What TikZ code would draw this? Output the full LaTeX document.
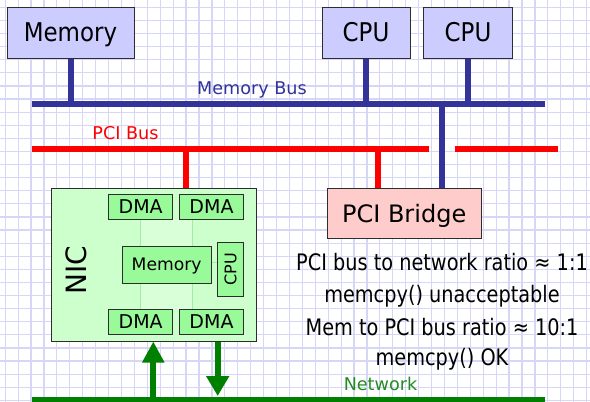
\documentclass[tikz,border=0pt]{standalone}
\usepackage{fontspec}
\setmainfont{DejaVu Sans}
\newfontfamily\notefont[FakeStretch=0.85]{DejaVu Sans}
\newfontfamily\headfont[FakeStretch=0.89]{DejaVu Sans}
\usetikzlibrary{arrows.meta}

\definecolor{gridc}{RGB}{214,214,246}
\definecolor{boxblue}{RGB}{204,204,255}
\definecolor{busblue}{RGB}{51,51,153}
\definecolor{pcired}{RGB}{255,0,0}
\definecolor{netgreen}{RGB}{0,128,0}
\definecolor{nettext}{RGB}{34,140,34}
\definecolor{nicfill}{RGB}{204,255,204}
\definecolor{bandfill}{RGB}{216,255,216}
\definecolor{unitfill}{RGB}{153,250,153}
\definecolor{bridgefill}{RGB}{255,204,204}
\definecolor{edgec}{RGB}{45,45,45}
\definecolor{faintc}{RGB}{165,235,165}

\tikzset{
  gridline/.style={draw=gridc, line width=1.2pt},
  bus/.style={line width=6pt},
  box/.style={draw=edgec, line width=1pt, inner sep=0pt, text depth=0pt},
  topbox/.style={box, fill=boxblue, minimum height=51pt,
    font=\headfont\fontsize{25.8}{30}\selectfont, text height=18.8pt},
  unit/.style={box, fill=unitfill, line width=0.8pt},
  dmabox/.style={unit, minimum width=64pt, minimum height=25pt,
    font=\fontsize{19}{22}\selectfont, text height=13.9pt},
  buslabel/.style={anchor=base, inner sep=0pt, font=\fontsize{17.6}{20}\selectfont},
  note/.style={anchor=base, inner sep=0pt, font=\notefont\fontsize{22.7}{26}\selectfont},
  flow/.style={draw=netgreen, line width=6pt},
  faintline/.style={draw=faintc, line width=1pt}
}

\begin{document}
\begin{tikzpicture}[x=1pt,y=-1pt]
\useasboundingbox (0,0) rectangle (590,402);
\fill[white] (0,0) rectangle (590,402);

% squared paper
\foreach \i in {0,...,45} \draw[gridline] ({5.2+12.92*\i},0) -- ++(0,402);
\foreach \j in {0,...,30} \draw[gridline] (0,{7.3+13.1*\j}) -- ++(590,0);

% host side
\node[topbox, minimum width=127pt] (mem)  at (70.5,32.5) {Memory};
\node[topbox, minimum width=88pt]  (cpu1) at (366,32.5)  {CPU};
\node[topbox, minimum width=89pt]  (cpu2) at (468,32.5)  {CPU};

\node[box, fill=bridgefill, minimum width=154pt, minimum height=50pt,
      font=\fontsize{24}{28}\selectfont, text height=17.5pt] (bridge) at (404.2,213.3) {PCI Bridge};

% network interface card
\node[box, fill=nicfill, minimum width=204.3pt, minimum height=152.7pt] (nic) at (153.85,264.65) {};
\fill[bandfill] (140.7,219) rectangle (192.3,309.3);
\draw[faintline] (140.7,219) -- (140.7,309.3);
\draw[faintline] (192.3,219) -- (192.3,309.3);
\draw[faintline] (211,262) -- (217.3,262);

\node[rotate=90, inner sep=0pt, font=\fontsize{28}{31}\selectfont,
      text height=20.4pt, text depth=0pt] (niclabel) at (76.3,270) {NIC};

\node[dmabox] (dma1) at (140.65,206.5) {DMA};
\node[dmabox] (dma2) at (211.5,206.5)  {DMA};
\node[dmabox] (dma3) at (140.65,321.8) {DMA};
\node[dmabox] (dma4) at (211.5,321.8)  {DMA};

\node[unit, minimum width=88.7pt, minimum height=37.3pt,
      font=\fontsize{17.2}{20}\selectfont, text height=12.5pt] (nmem) at (166.65,264.65) {Memory};
\node[unit, rotate=90, minimum width=54pt, minimum height=26.4pt,
      font=\fontsize{16}{19}\selectfont, text height=11.7pt] (ncpu) at (230.5,269.3) {CPU};

% memory bus
\coordinate (mbL) at (32,103.5);
\coordinate (mbR) at (545,103.5);
\coordinate (mbB) at (442,103.5);
\draw[bus, busblue] (mbL) -- (mbR);
\draw[bus, busblue] (mem.south)  -- (mem.south |- mbL);
\draw[bus, busblue] (cpu1.south) -- (cpu1.south |- mbL);
\draw[bus, busblue] (cpu2.south) -- (cpu2.south |- mbL);
\draw[bus, busblue] (mbB) -- (mbB |- bridge.north);
\node[buslabel, text=busblue] (mblabel) at (252,94) {Memory Bus};

% PCI bus, broken where the memory link passes
\coordinate (pL)  at (32,148.8);
\coordinate (pM)  at (429.3,148.8);
\coordinate (pM2) at (455,148.8);
\coordinate (pR)  at (557.7,148.8);
\coordinate (pNic) at (185.7,148.8);
\coordinate (pBr)  at (378.3,148.8);
\draw[bus, pcired] (pL) -- (pM);
\draw[bus, pcired] (pM2) -- (pR);
\draw[bus, pcired] (pNic) -- (pNic |- nic.north);
\draw[bus, pcired] (pBr) -- (pBr |- bridge.north);
\node[buslabel, text=pcired] (pcilabel) at (125.5,139) {PCI Bus};

% network
\coordinate (nL) at (32,400);
\coordinate (nR) at (545,400);
\coordinate (upS) at (153.3,397);
\coordinate (dnE) at (217.7,396);
\draw[bus, netgreen] (nL) -- (nR);
\draw[flow, -{Triangle[width=21pt,length=21pt]}] (upS) -- (upS |- nic.south);
\draw[flow, -{Triangle[width=22pt,length=20pt]}] (dnE |- nic.south) -- (dnE);
\node[buslabel, text=nettext] (netlabel) at (380.5,390.7) {Network};

% notes
\node[note] (note1) at (442,270)   {PCI bus to network ratio ≈ 1:1};
\node[note] (note2) at (442,302.5) {memcpy() unacceptable};
\node[note] (note3) at (442,335)   {Mem to PCI bus ratio ≈ 10:1};
\node[note] (note4) at (442,365)   {memcpy() OK};
\end{tikzpicture}
\end{document}
